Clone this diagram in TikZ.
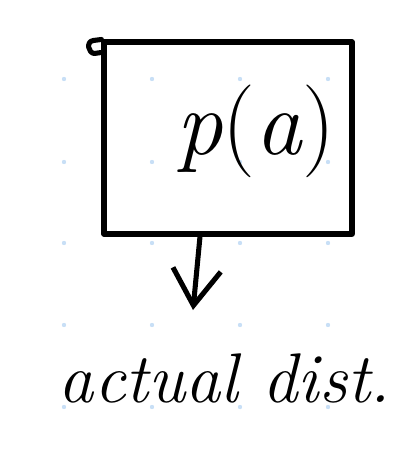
\documentclass[tikz,border=0pt]{standalone}
\usepackage{fontspec}
\usetikzlibrary{arrows.meta,positioning}
\definecolor{Ink}{HTML}{000000}
\definecolor{Dot}{HTML}{C8DFF6}
\tikzset{pen/.style={draw=Ink,line width=3.6pt,line cap=round,line join=round},flow/.style={-{Straight Barb[length=9mm,width=12mm,line width=3.6pt]},pen},scrawl/.style={text=Ink,inner sep=0pt}}

\begin{document}
\begin{tikzpicture}[x=0.25mm,y=-0.25mm]
\useasboundingbox (0,0) rectangle (414,451);
\foreach \gx in {64,152,240,328}
  \foreach \gy in {79,162,243,325,407}
    \fill[Dot] (\gx,\gy) circle (2.2);
\node[pen,minimum width=62mm,minimum height=48mm,inner sep=0pt] (model) at (228,138) {};
\draw[pen] (model.north west) -- ++(-8,1) .. controls ++(-8,1) and ++(-6,0) .. ++(1,13) -- ++(7,-1);
\node[scrawl,font=\fontsize{66}{72}\selectfont] (prob) at (256,131) {\textit{p}(\textit{a})};
\node[scrawl,font=\fontsize{50}{56}\selectfont\itshape,anchor=base] (dist) at (225,402) {actual dist.};
\coordinate (tip) at (193,310);
\draw[flow] ([xshift=-7mm]model.south) -- (tip);
\end{tikzpicture}
\end{document}
